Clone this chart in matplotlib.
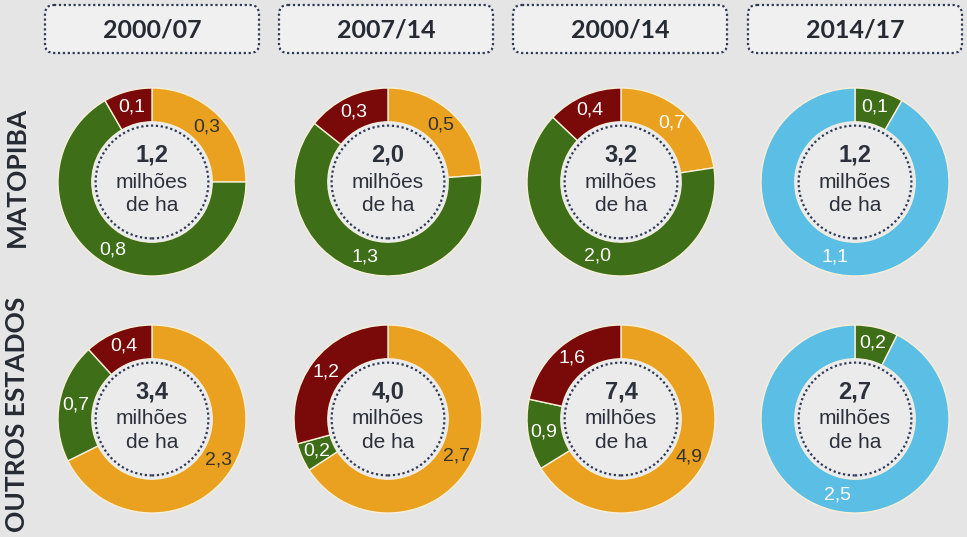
import math
import matplotlib
matplotlib.use("Agg")
import matplotlib.pyplot as plt
from matplotlib.patches import Circle, FancyBboxPatch

plt.rcParams["font.family"] = ["Liberation Sans", "DejaVu Sans"]

# dados
periodos = ["2000/07", "2007/14", "2000/14", "2014/17"]
regioes = ["MATOPIBA", "OUTROS ESTADOS"]
totais_matopiba = ["1,2", "2,0", "3,2", "1,2"]
totais_outros = ["3,4", "4,0", "7,4", "2,7"]
valores_matopiba = [[0.3, 0.8, 0.1], [0.5, 1.3, 0.3], [0.7, 2.0, 0.4], [0.1, 1.1]]
valores_outros = [[2.3, 0.7, 0.4], [2.7, 0.2, 1.2], [4.9, 0.9, 1.6], [0.2, 2.5]]

LARANJA = "#E9A11F"
VERDE = "#3E6E17"
VERMELHO = "#7A0A0A"
AZUL = "#5BBEE5"
cores_3 = [LARANJA, VERDE, VERMELHO]
cores_2 = [VERDE, AZUL]

FUNDO = "#E5E5E5"
TEXTO = "#2B303B"

W, H = 967, 537
fig = plt.figure(figsize=(W / 100, H / 100), dpi=100)
fig.patch.set_facecolor(FUNDO)

centros_x = [152, 388, 621, 855]
centros_y = [182, 419]
R = 94
S = 200


def fmt(v):
    return ("%.1f" % v).replace(".", ",")


def donut(cx, cy, vals, total, cores, branco_laranja=False):
    ax = fig.add_axes([(cx - S / 2) / W, 1 - (cy + S / 2) / H, S / W, S / H])
    ax.set_aspect("equal")
    ax.axis("off")
    ax.pie(vals, radius=1, startangle=90, counterclock=False, colors=cores,
           wedgeprops=dict(width=0.36, edgecolor="#F7EFD8", linewidth=1))
    ax.set_xlim(-S / 2 / R, S / 2 / R)
    ax.set_ylim(-S / 2 / R, S / 2 / R)
    ax.add_patch(Circle((0, 0), 0.64, facecolor="#EBEBEC", edgecolor="none", zorder=3))
    ax.add_patch(Circle((0, 0), 0.6, facecolor="none", edgecolor="#2F3B55",
                        linestyle=(0, (1, 1.2)), linewidth=1.6, zorder=4))
    tot = sum(vals)
    acum = 0
    for v, c in zip(vals, cores):
        meio = (acum + v / 2) / tot
        acum += v
        ang = math.radians(90 - meio * 360)
        cor_txt = "white"
        if c == LARANJA and not branco_laranja:
            cor_txt = "#333333"
        ax.text(0.83 * math.cos(ang), 0.83 * math.sin(ang), fmt(v), ha="center", va="center",
                fontsize=14, color=cor_txt, zorder=5)
    ax.text(0, 0.29, total, ha="center", va="center", fontsize=17, fontweight="bold",
            color=TEXTO, zorder=5)
    ax.text(0, 0.0, "milhões", ha="center", va="center", fontsize=15, color=TEXTO, zorder=5)
    ax.text(0, -0.245, "de ha", ha="center", va="center", fontsize=15, color=TEXTO, zorder=5)


for i in range(4):
    cores = cores_3 if len(valores_matopiba[i]) == 3 else cores_2
    donut(centros_x[i], centros_y[0], valores_matopiba[i], totais_matopiba[i], cores,
          branco_laranja=(i == 2))
    cores = cores_3 if len(valores_outros[i]) == 3 else cores_2
    donut(centros_x[i], centros_y[1], valores_outros[i], totais_outros[i], cores)

# cabecalhos e rotulos (eixo em pixels)
axf = fig.add_axes([0, 0, 1, 1], zorder=-1)
axf.set_xlim(0, W)
axf.set_ylim(H, 0)
axf.axis("off")
caixas_x = [45, 279, 513, 748]
for x0, p in zip(caixas_x, periodos):
    axf.add_patch(FancyBboxPatch((x0, 5), 214, 48, boxstyle="round,pad=0,rounding_size=9",
                                 facecolor="#F0F0F1", edgecolor="#2F3B55",
                                 linestyle=(0, (1, 1.2)), linewidth=1.6))
    axf.text(x0 + 107, 30, p, ha="center", va="center", fontsize=18, fontweight="bold",
             color="#262A33", family="Lato")

for cy, r in zip(centros_y, regioes):
    axf.text(17, cy - 5, r, ha="center", va="center", rotation=90, fontsize=19,
             fontweight="bold", color="#262A33", family="Lato")

fig.savefig("out.png", dpi=100, facecolor=FUNDO)
